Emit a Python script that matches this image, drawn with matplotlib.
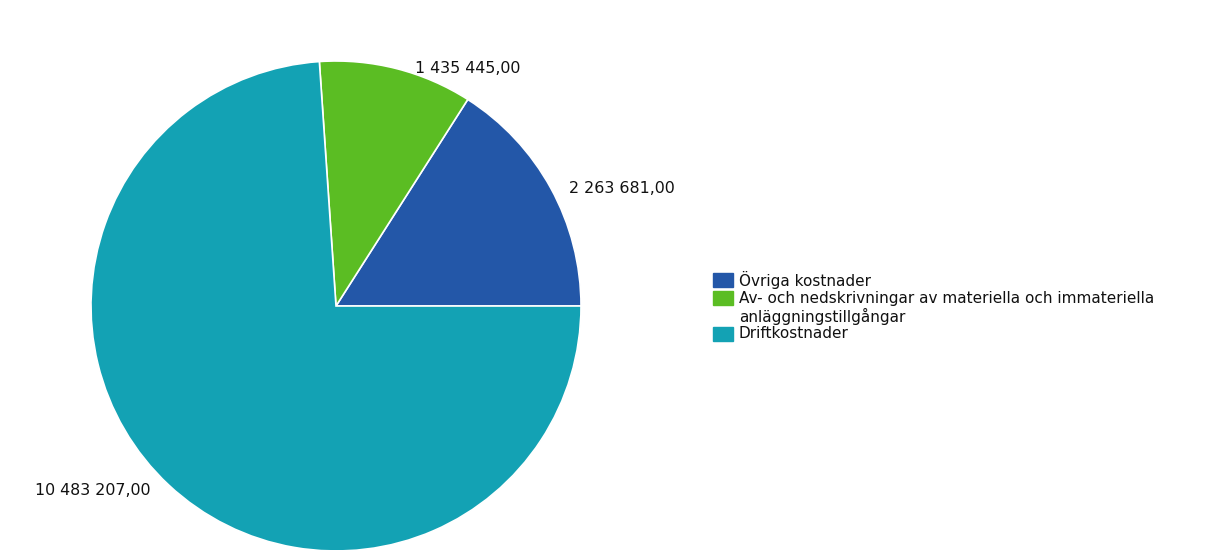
import numpy as np
import matplotlib
matplotlib.use("Agg")
import matplotlib.pyplot as plt
from matplotlib.patches import Rectangle

categories = ["Övriga kostnader",
              "Av- och nedskrivningar av materiella och immateriella\nanläggningstillgångar",
              "Driftkostnader"]
values = [2263681.00, 1435445.00, 10483207.00]
value_labels = ["2 263 681,00", "1 435 445,00", "10 483 207,00"]
colors = ["#2357a8", "#5bbd23", "#13a2b4"]

W, H = 1205, 550
fig = plt.figure(figsize=(W / 100, H / 100), dpi=100)
ax = fig.add_axes([0, 0, 1, 1])

cx, cy, r = 336, 306, 245
wedges, _ = ax.pie(values, colors=colors, startangle=0, counterclock=False,
                   center=(cx, cy), radius=r, frame=True,
                   wedgeprops=dict(edgecolor="white", linewidth=1.2))
ax.set_xlim(0, W)
ax.set_ylim(H, 0)
ax.set_aspect("equal")
ax.axis("off")

FONT = "DejaVu Sans"
TXT = "#111111"

# value labels at the wedge's outer edge mid-angle, shifted outward
for w, lab in zip(wedges, value_labels):
    ang = np.deg2rad((w.theta1 + w.theta2) / 2)
    px = w.center[0] + w.r * np.cos(ang)
    py = w.center[1] + w.r * np.sin(ang)
    right = np.cos(ang) >= 0
    dy = 5 if np.sin(ang) > 0 else 0
    ax.text(px + (18 if right else -18), py + dy, lab, ha="left" if right else "right",
            va="center", fontsize=11.4, family=FONT, color=TXT)

# legend
lx, ly, step = 713, 280, 18
y = ly
for c, cat in zip(colors, categories):
    ax.add_patch(Rectangle((lx, y - 7), 20, 14, facecolor=c, edgecolor=c))
    for i, line in enumerate(cat.split("\n")):
        ax.text(lx + 26, y + i * step, line, ha="left", va="center",
                fontsize=11.0, family=FONT, color=TXT)
    y += step * len(cat.split("\n"))

fig.savefig("out.png", dpi=100, facecolor="white")
